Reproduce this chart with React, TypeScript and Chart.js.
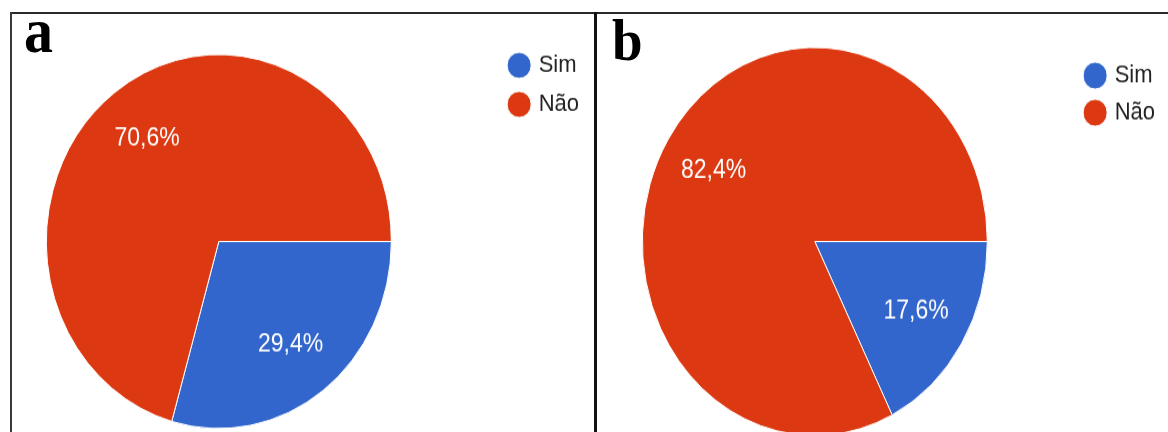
import React, { useEffect, useRef } from 'react';
import { Chart, registerables } from 'chart.js';

Chart.register(...registerables);

// ---- data ----
const categories = ['Sim', 'Não'];
const valuesA = [29.4, 70.6];
const valuesB = [17.6, 82.4];
const sliceColors = ['#3366CC', '#DC3912'];
const panelLetters = ['a', 'b'];

const sliceLabelPlugin = {
  id: 'sliceLabels',
  afterDatasetsDraw(chart: any) {
    const ctx = chart.ctx;
    const meta = chart.getDatasetMeta(0);
    const data = chart.data.datasets[0].data as number[];
    const total = data.reduce((s: number, v: number) => s + v, 0);
    ctx.save();
    ctx.font = '23px "Liberation Sans", Arial, sans-serif';
    ctx.fillStyle = '#ffffff';
    ctx.textAlign = 'center';
    ctx.textBaseline = 'middle';
    meta.data.forEach((arc: any, i: number) => {
      const p = arc.getProps(['x', 'y', 'startAngle', 'endAngle', 'outerRadius'], true);
      const mid = (p.startAngle + p.endAngle) / 2;
      const r = p.outerRadius * 0.69;
      const pct = ((data[i] / total) * 100).toFixed(1).replace('.', ',') + '%';
      ctx.fillText(pct, p.x + Math.cos(mid) * r, p.y + Math.sin(mid) * r);
    });
    ctx.restore();
  },
};

type PieProps = {
  values: number[];
  left: number;
  top: number;
  width: number;
  height: number;
  stretch: number;
  legendPad: number;
  padTop: number;
  radius: number;
};

function PiePanel(props: PieProps) {
  const ref = useRef<HTMLCanvasElement | null>(null);
  useEffect(() => {
    if (!ref.current) return;
    const chart = new Chart(ref.current, {
      type: 'pie',
      data: {
        labels: categories,
        datasets: [
          {
            data: props.values,
            backgroundColor: sliceColors,
            borderColor: '#ffffff',
            borderWidth: 1,
            hoverOffset: 0,
            radius: props.radius,
            clip: false,
          } as any,
        ],
      },
      options: {
        animation: false,
        responsive: true,
        maintainAspectRatio: false,
        events: [],
        rotation: 90,
        layout: {
          padding: { top: props.padTop, bottom: props.padTop, left: 0, right: 0 },
        },
        plugins: {
          tooltip: { enabled: false },
          legend: {
            position: 'right',
            align: 'start',
            labels: {
              usePointStyle: true,
              pointStyle: 'circle',
              boxWidth: 17,
              boxHeight: 17,
              padding: props.legendPad,
              color: '#222222',
              font: { family: '"Liberation Sans", Arial, sans-serif', size: 22 },
            },
          },
        },
      } as any,
      plugins: [sliceLabelPlugin],
    });
    return () => chart.destroy();
  }, []);
  return (
    <div
      style={{
        position: 'absolute',
        left: props.left,
        top: props.top,
        width: props.width,
        height: props.height,
        transform: `scaleY(${props.stretch})`,
        transformOrigin: '50% 50%',
      }}
    >
      <canvas ref={ref} />
    </div>
  );
}

export default function App() {
  return (
    <div
      style={{
        position: 'fixed',
        left: 0,
        top: 0,
        width: 1168,
        height: 432,
        overflow: 'hidden',
        background: '#ffffff',
      }}
    >
      <PiePanel values={valuesA} left={-59.5} top={43.5} width={648} height={395} stretch={1.084} legendPad={14} padTop={10} radius={172.5} />
      <PiePanel values={valuesB} left={553.5} top={51.5} width={611} height={379} stretch={1.125} legendPad={11} padTop={20} radius={172.5} />
      {/* frame lines */}
      <div style={{ position: 'absolute', left: 10, top: 12, width: 1158, height: 2, background: '#2a2a2a' }} />
      <div style={{ position: 'absolute', left: 10, top: 12, width: 2, height: 420, background: '#3a3a3a' }} />
      <div style={{ position: 'absolute', left: 594, top: 12, width: 3, height: 420, background: '#111111' }} />
      {/* panel letters */}
      <div
        style={{
          position: 'absolute',
          left: 24,
          top: 0,
          fontFamily: '"Liberation Serif", "Times New Roman", serif',
          fontWeight: 'bold',
          fontSize: 58,
          lineHeight: '58px',
          transform: 'scaleY(1.08)',
          transformOrigin: '0 0',
          color: '#000',
        }}
      >
        {panelLetters[0]}
      </div>
      <div
        style={{
          position: 'absolute',
          left: 612,
          top: 10.3,
          fontFamily: '"Liberation Serif", "Times New Roman", serif',
          fontWeight: 'bold',
          fontSize: 55,
          lineHeight: '55px',
          transform: 'scaleY(1.08)',
          transformOrigin: '0 0',
          color: '#000',
        }}
      >
        {panelLetters[1]}
      </div>
    </div>
  );
}
